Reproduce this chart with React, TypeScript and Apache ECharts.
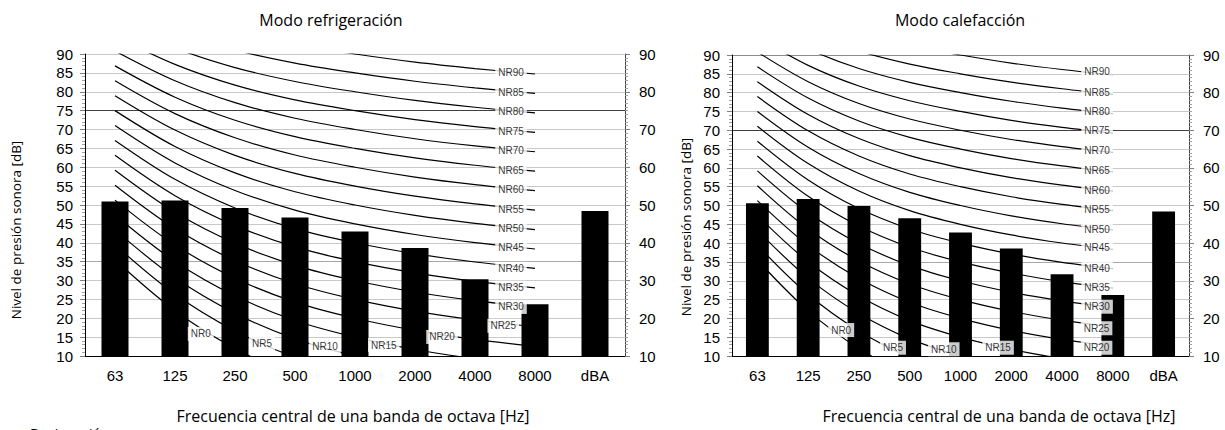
import React, { useEffect, useRef } from "react";
import * as echarts from "echarts";

// ---- data ----
const categories = ["63", "125", "250", "500", "1000", "2000", "4000", "8000", "dBA"];
const coolingLevels = [50.9, 51.2, 49.2, 46.7, 43.0, 38.6, 30.3, 23.7, 48.4];
const heatingLevels = [50.6, 51.7, 49.9, 46.6, 42.8, 38.6, 31.7, 26.2, 48.4];

const nrNames = ["NR0", "NR5", "NR10", "NR15", "NR20", "NR25", "NR30", "NR35", "NR40", "NR45",
  "NR50", "NR55", "NR60", "NR65", "NR70", "NR75", "NR80", "NR85", "NR90"];
// NR curve levels at 63 ... 8000 Hz
const nr0 = [35.5, 22.0, 12.0, 4.8, 0.0, -3.5, -6.1, -8.0];
const nr5 = [39.45, 26.35, 16.65, 9.67, 5.0, 1.58, -0.98, -2.85];
const nr10 = [43.4, 30.7, 21.3, 14.54, 10.0, 6.65, 4.15, 2.3];
const nr15 = [47.35, 35.05, 25.95, 19.41, 15.0, 11.73, 9.28, 7.45];
const nr20 = [51.3, 39.4, 30.6, 24.28, 20.0, 16.8, 14.4, 12.6];
const nr25 = [55.25, 43.75, 35.25, 29.15, 25.0, 21.88, 19.53, 17.75];
const nr30 = [59.2, 48.1, 39.9, 34.02, 30.0, 26.95, 24.65, 22.9];
const nr35 = [63.15, 52.45, 44.55, 38.89, 35.0, 32.03, 29.78, 28.05];
const nr40 = [67.1, 56.8, 49.2, 43.76, 40.0, 37.1, 34.9, 33.2];
const nr45 = [71.05, 61.15, 53.85, 48.63, 45.0, 42.18, 40.03, 38.35];
const nr50 = [75.0, 65.5, 58.5, 53.5, 50.0, 47.25, 45.15, 43.5];
const nr55 = [78.95, 69.85, 63.15, 58.37, 55.0, 52.33, 50.28, 48.65];
const nr60 = [82.9, 74.2, 67.8, 63.24, 60.0, 57.4, 55.4, 53.8];
const nr65 = [86.85, 78.55, 72.45, 68.11, 65.0, 62.48, 60.53, 58.95];
const nr70 = [90.8, 82.9, 77.1, 72.98, 70.0, 67.55, 65.65, 64.1];
const nr75 = [94.75, 87.25, 81.75, 77.85, 75.0, 72.63, 70.78, 69.25];
const nr80 = [98.7, 91.6, 86.4, 82.72, 80.0, 77.7, 75.9, 74.4];
const nr85 = [102.65, 95.95, 91.05, 87.59, 85.0, 82.78, 81.03, 79.55];
const nr90 = [106.6, 100.3, 95.7, 92.46, 90.0, 87.85, 86.15, 84.7];
const nrCurves = [nr0, nr5, nr10, nr15, nr20, nr25, nr30, nr35, nr40, nr45,
  nr50, nr55, nr60, nr65, nr70, nr75, nr80, nr85, nr90];

// label anchors for the NR tags: [position in category units, dB]
const coolingTagAnchors = [
  [1.93, 15.85], [2.95, 13.2], [4.0, 12.6], [4.98, 12.9], [5.95, 15.05], [6.97, 18.0],
  [7.1, 23.0], [7.1, 28.1], [7.1, 33.1], [7.1, 38.7], [7.1, 43.75], [7.1, 48.8],
  [7.1, 54.1], [7.1, 59.2], [7.1, 64.5], [7.1, 69.5], [7.1, 74.85], [7.1, 79.7], [7.1, 85.0],
];
const heatingTagAnchors = [
  [2.15, 16.9], [3.17, 12.2], [4.17, 11.8], [5.24, 12.2], [7.18, 12.2], [7.18, 17.4],
  [7.19, 23.1], [7.19, 28.3], [7.19, 33.3], [7.19, 38.9], [7.19, 43.75], [7.19, 49.0],
  [7.19, 54.1], [7.19, 59.2], [7.19, 64.75], [7.19, 69.9], [7.19, 75.1], [7.19, 80.1], [7.19, 85.6],
];

const TICK_FONT = "'Liberation Sans', Arial, sans-serif";
const TITLE_FONT = "'Open Sans', 'Noto Sans', sans-serif";

function gridColors(dark: number, mid: number, top?: number) {
  const arr: string[] = [];
  for (let i = 0; i < 17; i++) {
    if (i === dark) arr.push("#404040");
    else if (i === mid) arr.push("#a8a8a8");
    else if (top !== undefined && i === top) arr.push("#8c8c8c");
    else arr.push("#c8c8c8");
  }
  return arr;
}

function buildAxes(gridIndex: number, colors: string[]) {
  const xAxes = [
    {
      type: "category",
      gridIndex,
      data: categories,
      axisLine: { show: true, lineStyle: { color: "#000", width: 1 } },
      axisTick: { show: false },
      axisLabel: { color: "#000", fontSize: 15, fontFamily: TICK_FONT, margin: 12, interval: 0 },
      splitLine: { show: false },
    },
    { type: "value", gridIndex, min: 0, max: 9, show: false },
  ];
  const yAxes = [
    {
      type: "value",
      gridIndex,
      min: 10,
      max: 90,
      interval: 5,
      axisLine: { show: true, lineStyle: { color: "#000", width: 1 } },
      axisTick: { show: true, length: 5, lineStyle: { color: "#808080" } },
      minorTick: { show: true, splitNumber: 5, length: 3, lineStyle: { color: "#a0a0a0" } },
      axisLabel: { color: "#000", fontSize: 15, fontFamily: TICK_FONT, margin: 12 },
      splitLine: { show: true, lineStyle: { color: colors, width: 1 } },
    },
    {
      type: "value",
      gridIndex,
      position: "right",
      min: 10,
      max: 90,
      interval: 10,
      axisLine: { show: true, lineStyle: { color: "#404040", width: 1 } },
      axisTick: { show: true, length: 5, lineStyle: { color: "#808080" } },
      minorTick: { show: true, splitNumber: 10, length: 3, lineStyle: { color: "#a0a0a0" } },
      axisLabel: { color: "#000", fontSize: 15, fontFamily: TICK_FONT, margin: 14 },
      splitLine: { show: false },
    },
  ];
  return { xAxes, yAxes };
}

function buildSeries(base: number, levels: number[], anchors: number[][]) {
  const catX = base * 2;
  const valX = base * 2 + 1;
  const yIdx = base * 2;
  const series: any[] = [];
  nrCurves.forEach((curve, i) => {
    series.push({
      type: "line",
      name: nrNames[i],
      xAxisIndex: catX,
      yAxisIndex: yIdx,
      data: curve,
      smooth: 0.35,
      symbol: "none",
      clip: true,
      silent: true,
      lineStyle: { color: "#000", width: 1.2 },
      z: 2,
    });
  });
  series.push({
    type: "bar",
    xAxisIndex: catX,
    yAxisIndex: yIdx,
    data: levels,
    barWidth: "45%",
    itemStyle: { color: "#000" },
    silent: true,
    z: 3,
  });
  series.push({
    type: "scatter",
    xAxisIndex: valX,
    yAxisIndex: yIdx,
    data: anchors.map((p, i) => ({ value: p, name: nrNames[i] })),
    symbolSize: 1,
    itemStyle: { color: "rgba(0,0,0,0)" },
    silent: true,
    clip: false,
    z: 10,
    label: {
      show: true,
      position: "inside",
      formatter: "{b}",
      color: "#000",
      fontSize: 10,
      fontFamily: TICK_FONT,
      backgroundColor: "#ffffff",
      padding: [2, 3],
    },
  });
  return series;
}

export default function App() {
  const ref = useRef<HTMLDivElement>(null);
  useEffect(() => {
    if (!ref.current) return;
    const chart = echarts.init(ref.current, null, { renderer: "svg" });
    const a0 = buildAxes(0, gridColors(13, 5));
    const a1 = buildAxes(1, gridColors(12, 5, 16));
    const option: any = {
      animation: false,
      backgroundColor: "#fff",
      grid: [
        { left: 85, top: 54, width: 540, height: 302, containLabel: false, outerBoundsMode: "none" },
        { left: 732, top: 55, width: 457, height: 301, containLabel: false, outerBoundsMode: "none" },
      ],
      xAxis: [...a0.xAxes, ...a1.xAxes],
      yAxis: [...a0.yAxes, ...a1.yAxes],
      series: [
        ...buildSeries(0, coolingLevels, coolingTagAnchors),
        ...buildSeries(1, heatingLevels, heatingTagAnchors),
      ],
      graphic: [
        { type: "text", x: 331, y: 20, style: { text: "Modo refrigeración", font: `16px ${TITLE_FONT}`, fill: "#000", textAlign: "center", textVerticalAlign: "middle" } },
        { type: "text", x: 960, y: 20, style: { text: "Modo calefacción", font: `16px ${TITLE_FONT}`, fill: "#000", textAlign: "center", textVerticalAlign: "middle" } },
        { type: "text", x: 353, y: 416, style: { text: "Frecuencia central de una banda de octava [Hz]", font: `16px ${TITLE_FONT}`, fill: "#000", textAlign: "center", textVerticalAlign: "middle" } },
        { type: "text", x: 999, y: 416, style: { text: "Frecuencia central de una banda de octava [Hz]", font: `16px ${TITLE_FONT}`, fill: "#000", textAlign: "center", textVerticalAlign: "middle" } },
        { type: "text", x: 16, y: 230, rotation: Math.PI / 2, style: { text: "Nivel de presión sonora [dB]", font: `13.5px ${TITLE_FONT}`, fill: "#000", textAlign: "center", textVerticalAlign: "middle" } },
        { type: "text", x: 686, y: 227, rotation: Math.PI / 2, style: { text: "Nivel de presión sonora [dB]", font: `13.5px ${TITLE_FONT}`, fill: "#000", textAlign: "center", textVerticalAlign: "middle" } },
        { type: "text", x: 30, y: 426, style: { text: "Designación", font: `14px ${TITLE_FONT}`, fill: "#000", textAlign: "left", textVerticalAlign: "top" } },
      ],
    };
    chart.setOption(option);
    return () => chart.dispose();
  }, []);
  return (
    <div
      ref={ref}
      style={{ position: "absolute", left: 0, top: 0, width: 1225, height: 430, background: "#fff" }}
    />
  );
}
